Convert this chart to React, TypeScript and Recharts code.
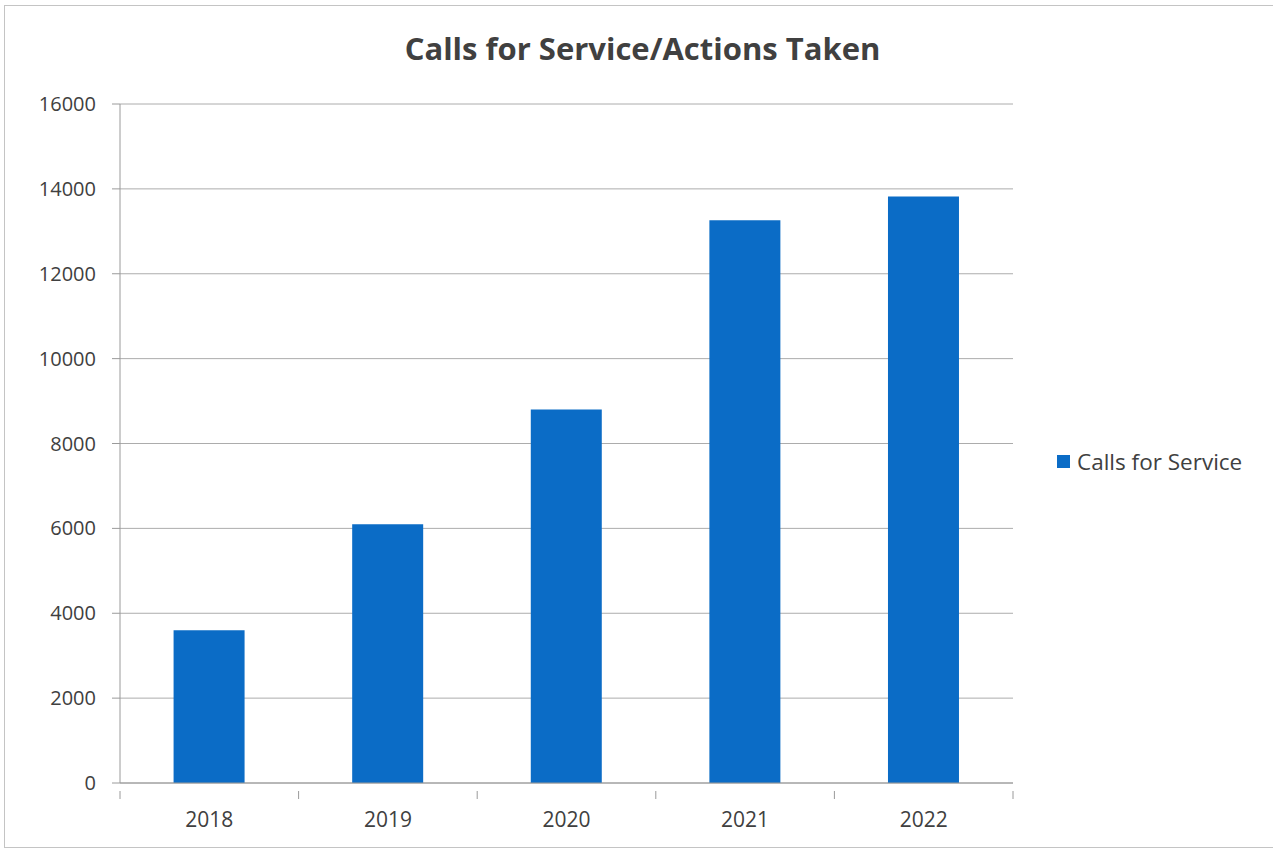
import { Bar, BarChart, CartesianGrid, Legend, XAxis, YAxis } from 'recharts';

const YEARS = ['2018', '2019', '2020', '2021', '2022'];
const CALLS_FOR_SERVICE = [3600, 6100, 8800, 13260, 13820];
const Y_TICKS = [0, 2000, 4000, 6000, 8000, 10000, 12000, 14000, 16000];

const BAR_COLOR = '#0b6cc6';
const AXIS_COLOR = '#9a9a9a';
const TEXT_COLOR = '#404040';
const FONT = '"Open Sans", sans-serif';

const data = YEARS.map((year, i) => ({ year, calls: CALLS_FOR_SERVICE[i] }));

// Excel style: tick marks on the category boundaries, not centres
function YearTick(props: any) {
  const { x, y, payload, index } = props;
  const half = payload.offset ?? 0;
  return (
    <g>
      <line x1={x - half} y1={y} x2={x - half} y2={y + 8} stroke={AXIS_COLOR} />
      {index === YEARS.length - 1 && (
        <line x1={x + half} y1={y} x2={x + half} y2={y + 8} stroke={AXIS_COLOR} />
      )}
      <text
        x={x}
        y={y + 36}
        textAnchor="middle"
        fill={TEXT_COLOR}
        fontSize={21}
        fontFamily={FONT}
      >
        {payload.value}
      </text>
    </g>
  );
}

function LegendBox({ payload }: any) {
  return (
    <div style={{ paddingLeft: 44, fontFamily: FONT }}>
      {(payload ?? []).map((p: any) => (
        <div key={p.value} style={{ display: 'flex', alignItems: 'center' }}>
          <span
            style={{
              display: 'inline-block',
              width: 13,
              height: 13,
              background: BAR_COLOR,
              marginRight: 7,
            }}
          />
          <span style={{ fontSize: 22.5, color: TEXT_COLOR, whiteSpace: 'nowrap' }}>
            {p.value}
          </span>
        </div>
      ))}
    </div>
  );
}

export default function App() {
  return (
    <div
      style={{
        position: 'absolute',
        left: 0,
        top: 0,
        width: 1273,
        height: 848,
        background: '#fff',
        overflow: 'hidden',
      }}
    >
      <div
        style={{
          position: 'absolute',
          left: 4,
          top: 5,
          width: 1280,
          height: 841,
          border: '1px solid #c4c4c4',
        }}
      />
      <div
        style={{
          position: 'absolute',
          left: 0,
          top: 27,
          width: 1273,
          textAlign: 'center',
          fontFamily: FONT,
          fontWeight: 700,
          fontSize: 31,
          color: '#404040',
          paddingLeft: 6,
        }}
      >
        Calls for Service/Actions Taken
      </div>
      <div style={{ position: 'absolute', left: 0, top: 0 }}>
        <BarChart
          width={1273}
          height={848}
          data={data}
          margin={{ top: 104, right: 20, bottom: 35, left: 0 }}
          barCategoryGap="30%"
        >
          <CartesianGrid horizontal vertical={false} stroke="#acacac" />
          <XAxis
            dataKey="year"
            height={30}
            axisLine={{ stroke: AXIS_COLOR }}
            tickLine={false}
            tick={<YearTick />}
            interval={0}
          />
          <YAxis
            width={120}
            domain={[0, 16000]}
            ticks={Y_TICKS}
            interval={0}
            axisLine={{ stroke: AXIS_COLOR }}
            tickLine={{ stroke: AXIS_COLOR }}
            tickSize={8}
            tickMargin={16}
            tick={{ fill: TEXT_COLOR, fontSize: 20, fontFamily: FONT }}
          />
          <Legend
            layout="vertical"
            align="right"
            verticalAlign="middle"
            content={<LegendBox />}
            wrapperStyle={{ width: 240, top: 446 }}
          />
          <Bar
            dataKey="calls"
            name="Calls for Service"
            fill={BAR_COLOR}
            isAnimationActive={false}
          />
        </BarChart>
      </div>
    </div>
  );
}
